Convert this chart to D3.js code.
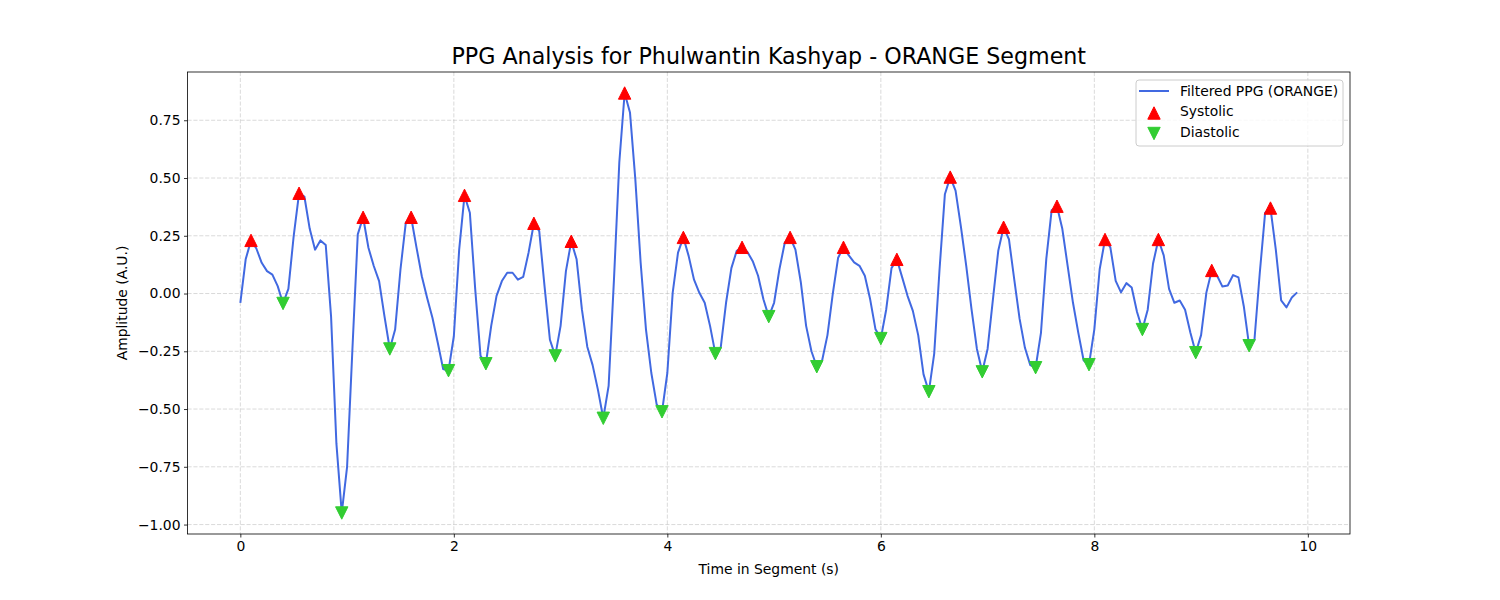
<!DOCTYPE html>
<html>
<head>
<meta charset="utf-8">
<script src="https://cdn.jsdelivr.net/npm/d3@7"></script>
<style>
  body { margin: 0; background: #fff; }
  svg { display: block; font-family: "DejaVu Sans", sans-serif; }
</style>
</head>
<body>
<svg id="chart" width="1500" height="600"></svg>
<script>
// filtered PPG, one sample every 0.05 s (0.00 .. 9.90 s)
const sampleStep = 0.05;
const ppg = [
  -0.04, 0.148, 0.23, 0.195, 0.133, 0.097, 0.082, 0.032, -0.043, 0.02,
  0.25, 0.434, 0.42, 0.28, 0.19, 0.23, 0.21, -0.1, -0.65, -0.95,
  -0.75, -0.24, 0.256, 0.33, 0.198, 0.119, 0.054, -0.098, -0.24, -0.156,
  0.104, 0.307, 0.33, 0.2, 0.075, -0.019, -0.106, -0.214, -0.327, -0.334,
  -0.185, 0.19, 0.425, 0.35, 0.02, -0.27, -0.304, -0.14, -0.01, 0.054,
  0.09, 0.09, 0.06, 0.072, 0.177, 0.304, 0.27, 0.03, -0.2, -0.27,
  -0.14, 0.097, 0.226, 0.148, -0.07, -0.23, -0.31, -0.417, -0.54, -0.40,
  0.06, 0.567, 0.868, 0.784, 0.495, 0.133, -0.156, -0.344, -0.48, -0.512,
  -0.344, 0.003, 0.177, 0.243, 0.162, 0.06, 0.003, -0.04, -0.14, -0.26,
  -0.234, -0.04, 0.11, 0.185, 0.2, 0.18, 0.14, 0.077, -0.025, -0.1,
  -0.04, 0.105, 0.22, 0.243, 0.19, 0.05, -0.14, -0.25, -0.317, -0.29,
  -0.18, 0.0, 0.155, 0.2, 0.165, 0.135, 0.12, 0.077, -0.025, -0.155,
  -0.195, -0.07, 0.11, 0.148, 0.07, -0.01, -0.075, -0.18, -0.35, -0.425,
  -0.26, 0.105, 0.43, 0.504, 0.445, 0.29, 0.12, -0.07, -0.24, -0.339,
  -0.24, -0.025, 0.185, 0.287, 0.235, 0.06, -0.11, -0.235, -0.31, -0.321,
  -0.17, 0.15, 0.36, 0.378, 0.28, 0.12, -0.04, -0.17, -0.29, -0.308,
  -0.155, 0.105, 0.234, 0.2, 0.055, 0.005, 0.045, 0.026, -0.08, -0.156,
  -0.07, 0.13, 0.234, 0.165, 0.02, -0.04, -0.03, -0.07, -0.17, -0.256,
  -0.18, 0.005, 0.1, 0.077, 0.03, 0.035, 0.08, 0.07, -0.055, -0.226,
  -0.2, 0.09, 0.35, 0.37, 0.19, -0.03, -0.06, -0.017, 0.005
];

// detected peaks (s)
const systolicTimes = [0.1, 0.55, 1.15, 1.6, 2.1, 2.75, 3.1, 3.6, 4.15, 4.7,
  5.15, 5.65, 6.15, 6.65, 7.15, 7.65, 8.1, 8.6, 9.1, 9.65];
const diastolicTimes = [0.4, 0.95, 1.4, 1.95, 2.3, 2.95, 3.4, 3.95, 4.45, 4.95,
  5.4, 6.0, 6.45, 6.95, 7.45, 7.95, 8.45, 8.95, 9.45];

const xTicks = [0, 2, 4, 6, 8, 10];
const yTicks = [-1.0, -0.75, -0.5, -0.25, 0.0, 0.25, 0.5, 0.75];
const legendLabels = ["Filtered PPG (ORANGE)", "Systolic", "Diastolic"];

const signal = ppg.map((v, i) => ({t: i * sampleStep, v: v}));
const atTime = t => signal[Math.round(t / sampleStep)];
const sys = systolicTimes.map(atTime);
const dia = diastolicTimes.map(atTime);

const margin = {top: 72, right: 150, bottom: 66, left: 187.5};
const W = 1500, H = 600;
const svg = d3.select("#chart");

// matplotlib style 5% padding
function padded(ext) {
  const d = (ext[1] - ext[0]) * 0.05;
  return [ext[0] - d, ext[1] + d];
}
const x = d3.scaleLinear()
  .domain(padded(d3.extent(signal, d => d.t)))
  .range([margin.left, W - margin.right]);
const y = d3.scaleLinear()
  .domain(padded(d3.extent(signal, d => d.v)))
  .range([H - margin.bottom, margin.top]);

const fmt = d => d3.format(".2f")(d).replace("-", "\u2212");

// grid
const grid = svg.append("g").attr("stroke", "#b0b0b0").attr("stroke-opacity", 0.6)
  .attr("stroke-width", 0.8).attr("stroke-dasharray", "4.1,1.8");
grid.selectAll("line.gx").data(xTicks).join("line").attr("class", "gx")
  .attr("x1", d => x(d)).attr("x2", d => x(d))
  .attr("y1", margin.top).attr("y2", H - margin.bottom);
grid.selectAll("line.gy").data(yTicks).join("line").attr("class", "gy")
  .attr("y1", d => y(d)).attr("y2", d => y(d))
  .attr("x1", margin.left).attr("x2", W - margin.right);

// line
const line = d3.line().x(d => x(d.t)).y(d => y(d.v));
svg.append("path").datum(signal)
  .attr("d", line)
  .attr("fill", "none")
  .attr("stroke", "royalblue")
  .attr("stroke-width", 2)
  .attr("stroke-linejoin", "round");

// triangles: bbox centre on the data point like matplotlib ^ / v
const hs = 6.2;
const triUp = `M0,${-hs}L${-hs},${hs}L${hs},${hs}Z`;
const triDown = `M0,${hs}L${-hs},${-hs}L${hs},${-hs}Z`;

svg.append("g").selectAll("path").data(sys).join("path")
  .attr("d", triUp)
  .attr("transform", d => `translate(${x(d.t)},${y(d.v)})`)
  .attr("fill", "red").attr("stroke", "red").attr("stroke-width", 1);

svg.append("g").selectAll("path").data(dia).join("path")
  .attr("d", triDown)
  .attr("transform", d => `translate(${x(d.t)},${y(d.v)})`)
  .attr("fill", "limegreen").attr("stroke", "limegreen").attr("stroke-width", 1);

// axes
const xAxis = svg.append("g")
  .attr("transform", `translate(0,${H - margin.bottom})`)
  .call(d3.axisBottom(x).tickValues(xTicks).tickSize(3.5).tickPadding(3.5).tickSizeOuter(0));
const yAxis = svg.append("g")
  .attr("transform", `translate(${margin.left},0)`)
  .call(d3.axisLeft(y).tickValues(yTicks).tickFormat(fmt).tickSize(3.5).tickPadding(3.5).tickSizeOuter(0));
[xAxis, yAxis].forEach(a => {
  a.select(".domain").remove();
  a.selectAll(".tick line").attr("stroke", "#000").attr("stroke-width", 0.8);
  a.selectAll(".tick text").attr("font-size", "13.9px").attr("fill", "#000")
    .attr("font-family", "DejaVu Sans");
});

// frame
svg.append("rect")
  .attr("x", margin.left).attr("y", margin.top)
  .attr("width", W - margin.right - margin.left)
  .attr("height", H - margin.bottom - margin.top)
  .attr("fill", "none").attr("stroke", "#000").attr("stroke-width", 0.8);

// titles
svg.append("text")
  .attr("x", (margin.left + W - margin.right) / 2).attr("y", 64)
  .attr("text-anchor", "middle").attr("font-size", "22.2px")
  .text("PPG Analysis for Phulwantin Kashyap - ORANGE Segment");
svg.append("text")
  .attr("x", (margin.left + W - margin.right) / 2).attr("y", 574)
  .attr("text-anchor", "middle").attr("font-size", "13.9px")
  .text("Time in Segment (s)");
svg.append("text")
  .attr("transform", `translate(127,${(margin.top + H - margin.bottom) / 2}) rotate(-90)`)
  .attr("text-anchor", "middle").attr("font-size", "13.9px")
  .text("Amplitude (A.U.)");

// legend
const lg = svg.append("g").attr("transform", "translate(1136,80)");
lg.append("rect")
  .attr("width", 207).attr("height", 66).attr("rx", 3)
  .attr("fill", "#fff").attr("fill-opacity", 0.8)
  .attr("stroke", "#cccccc").attr("stroke-width", 1);
const rowY = [11, 31, 52];
lg.append("line").attr("x1", 3).attr("x2", 33).attr("y1", rowY[0]).attr("y2", rowY[0])
  .attr("stroke", "royalblue").attr("stroke-width", 2);
lg.append("path").attr("d", triUp).attr("transform", `translate(18,${rowY[1] + 2})`)
  .attr("fill", "red").attr("stroke", "red");
lg.append("path").attr("d", triDown).attr("transform", `translate(18,${rowY[2] + 1.5})`)
  .attr("fill", "limegreen").attr("stroke", "limegreen");
lg.selectAll("text.lab").data(legendLabels).join("text").attr("class", "lab")
  .attr("x", 44).attr("y", (d, i) => rowY[i] + 5)
  .attr("font-size", "13.9px")
  .text(d => d);
</script>
</body>
</html>
